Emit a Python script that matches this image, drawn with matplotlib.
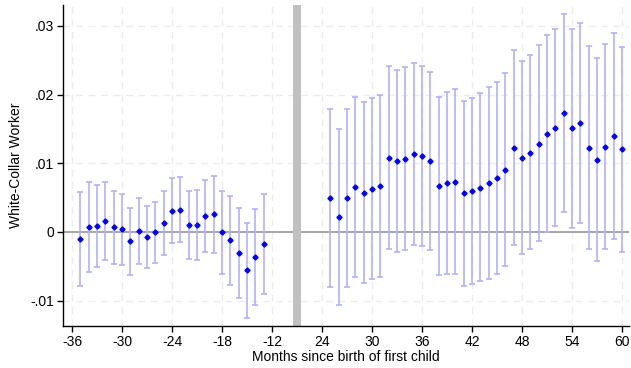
import numpy as np
import matplotlib
matplotlib.use("Agg")
from matplotlib import pyplot as plt

plt.rcParams['font.family'] = ['Liberation Sans', 'DejaVu Sans']

# months before / after birth of first child
months_pre = list(range(-35, -12))
months_post = list(range(25, 61))

# point estimates, upper and lower 95% CI (in units of 0.01)
coef_pre = [-0.102, 0.073, 0.087, 0.165, 0.068, 0.039, -0.136, 0.015, -0.073, -0.005,
            0.136, 0.311, 0.326, 0.102, 0.102, 0.228, 0.258, -0.005, -0.121, -0.311,
            -0.559, -0.364, -0.180]
upper_pre = [0.583, 0.734, 0.690, 0.734, 0.598, 0.559, 0.350, 0.500, 0.379, 0.437,
             0.603, 0.782, 0.802, 0.603, 0.612, 0.758, 0.811, 0.598, 0.520, 0.350,
             0.131, 0.340, 0.554]
lower_pre = [-0.792, -0.583, -0.510, -0.403, -0.466, -0.476, -0.627, -0.471, -0.525, -0.447,
             -0.335, -0.165, -0.151, -0.394, -0.408, -0.296, -0.301, -0.607, -0.768, -0.967,
             -1.249, -1.069, -0.904]

coef_post = [0.491, 0.214, 0.491, 0.651, 0.573, 0.632, 0.671, 1.084, 1.030, 1.064,
             1.132, 1.103, 1.030, 0.675, 0.709, 0.734, 0.564, 0.598, 0.646, 0.709,
             0.782, 0.904, 1.229, 1.079, 1.156, 1.288, 1.429, 1.521, 1.735, 1.511,
             1.589, 1.229, 1.054, 1.239, 1.395, 1.205]
upper_post = [1.788, 1.501, 1.788, 1.963, 1.890, 1.944, 1.997, 2.420, 2.357, 2.400,
              2.454, 2.410, 2.323, 1.968, 2.036, 2.075, 1.910, 1.953, 2.017, 2.104,
              2.187, 2.308, 2.643, 2.483, 2.571, 2.716, 2.867, 2.954, 3.178, 2.959,
              3.047, 2.702, 2.536, 2.736, 2.891, 2.697]
lower_post = [-0.797, -1.069, -0.802, -0.656, -0.739, -0.680, -0.656, -0.248, -0.296, -0.267,
              -0.194, -0.209, -0.258, -0.622, -0.617, -0.607, -0.787, -0.758, -0.719, -0.685,
              -0.617, -0.496, -0.185, -0.326, -0.253, -0.131, 0.000, 0.087, 0.292, 0.063,
              0.131, -0.248, -0.428, -0.248, -0.107, -0.287]

tick_labels = [-36, -30, -24, -18, -12, 24, 30, 36, 42, 48, 54, 60]
ytick_vals = [-0.01, 0, 0.01, 0.02, 0.03]
ytick_labels = ['-.01', '0', '.01', '.02', '.03']

# post-birth months are shifted left so the gap is compressed
shift = 30
pos_pre = np.array(months_pre, dtype=float)
pos_post = np.array(months_post, dtype=float) - shift
pos = np.concatenate([pos_pre, pos_post])
coef = np.concatenate([coef_pre, coef_post]) / 100
upper = np.concatenate([upper_pre, upper_post]) / 100
lower = np.concatenate([lower_pre, lower_post]) / 100

fig = plt.figure(figsize=(6.31, 3.68), dpi=100)
ax = fig.add_axes([0.0998, 0.1141, 0.8970, 0.8723])

ax.grid(True, color='#ececec', linestyle=(0, (5, 4)), linewidth=1.0)
ax.set_axisbelow(True)
ax.axhline(0, color='#a6a6a6', linewidth=1.4, zorder=1)
ax.axvspan(-9.5, -8.5, color='#c0c0c0', linewidth=0, zorder=1)

ax.errorbar(pos, coef, yerr=[coef - lower, upper - coef], fmt='none',
            ecolor='#b0b0ff', elinewidth=1.2, capsize=2.2, capthick=1.2, zorder=2)
ax.plot(pos, coef, linestyle='none', marker='D', markersize=2.6,
        color='#0000ff', zorder=3)

tick_pos = [t if t < 0 else t - shift for t in tick_labels]
ax.set_xticks(tick_pos)
ax.set_xticklabels([str(t) for t in tick_labels])
ax.set_yticks(ytick_vals)
ax.set_yticklabels(ytick_labels)
ax.set_xlim(-37.1, 30.85)
ax.set_ylim(-0.0137, 0.03305)

for s in ['top', 'right']:
    ax.spines[s].set_visible(False)
for s in ['left', 'bottom']:
    ax.spines[s].set_color('black')
    ax.spines[s].set_linewidth(1.0)
ax.tick_params(axis='both', labelsize=10, length=4, width=1, colors='black', pad=2.5)
ax.set_xlabel('Months since birth of first child', fontsize=10, labelpad=1)
ax.set_ylabel('White-Collar Worker', fontsize=10, labelpad=5)

fig.savefig('out.png', dpi=100)
